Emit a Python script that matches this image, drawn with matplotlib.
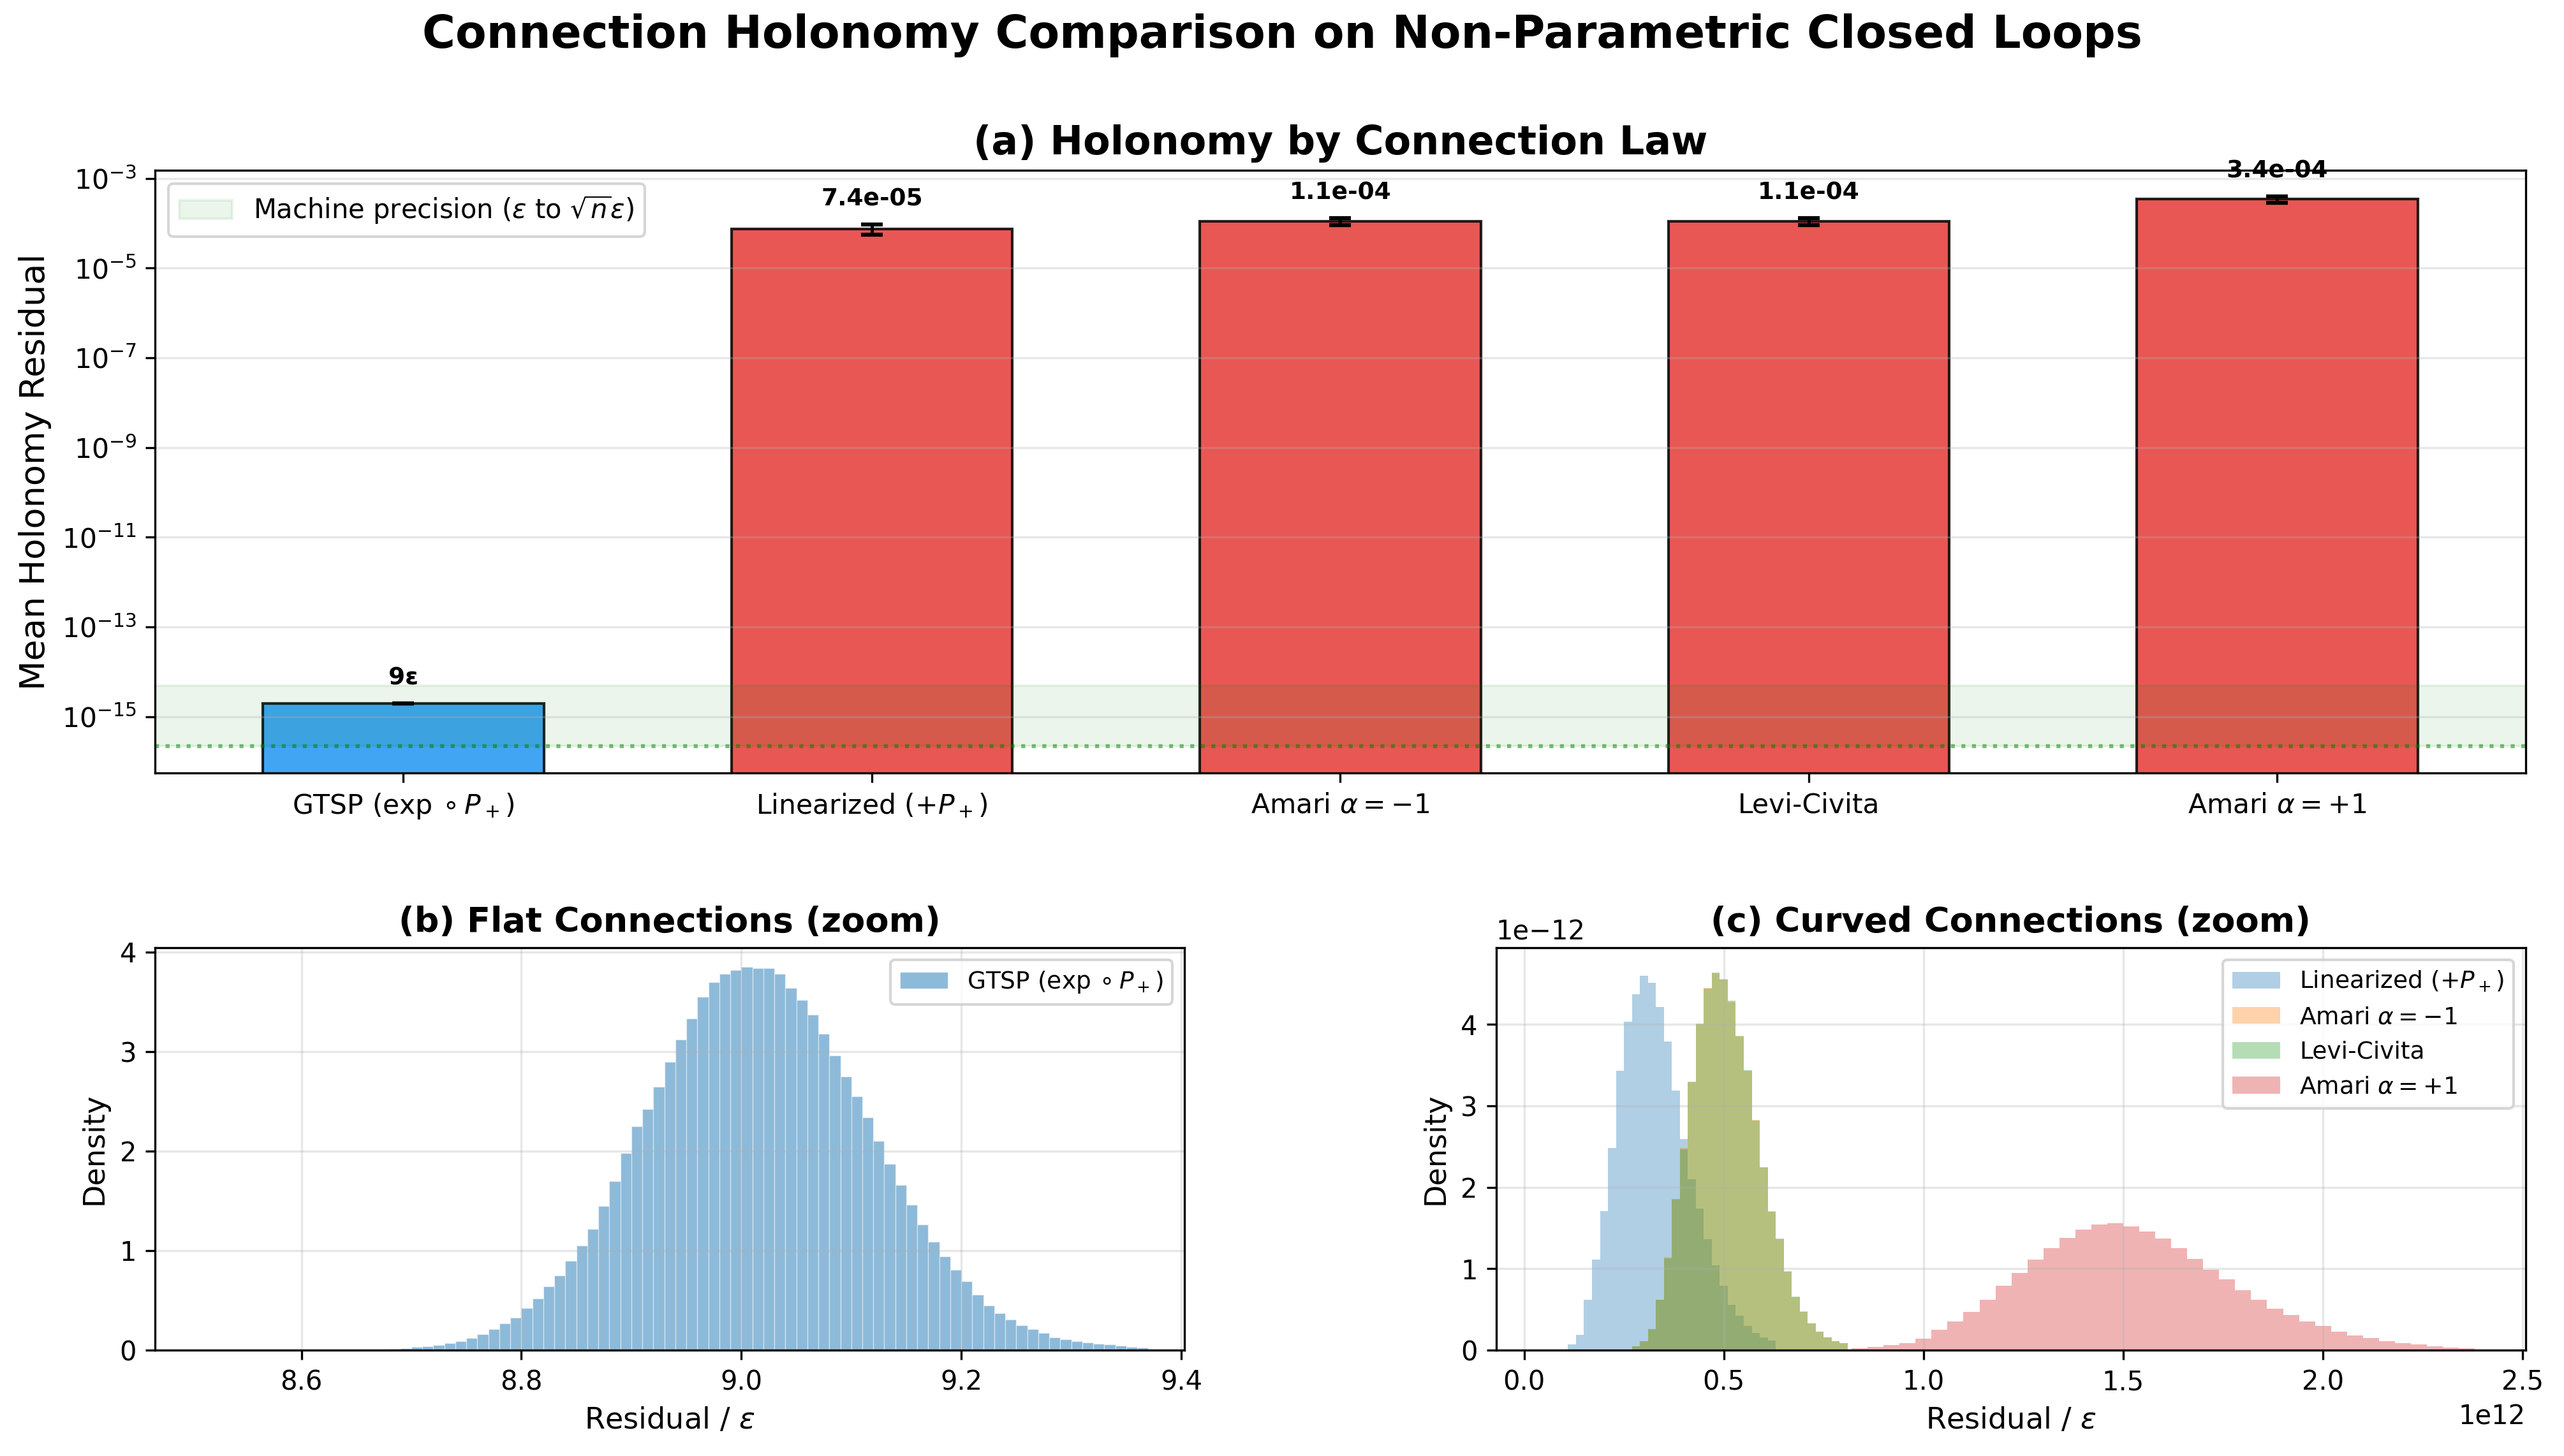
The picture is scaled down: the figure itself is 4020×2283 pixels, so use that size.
import numpy as np
import matplotlib.pyplot as plt

eps = np.finfo(float).eps

# (a) mean holonomy residual per connection law
methods = [r'GTSP ($\exp\circ P_+$)', r'Linearized ($+P_+$)', r'Amari $\alpha=-1$',
           'Levi-Civita', r'Amari $\alpha=+1$']
mean_residual = [9 * eps, 7.4e-05, 1.1e-04, 1.1e-04, 3.4e-04]
std_residual = [0.02 * eps, 1.9e-05, 1.9e-05, 1.9e-05, 5.5e-05]
bar_text = ['9ε', '7.4e-05', '1.1e-04', '1.1e-04', '3.4e-04']
band_upper = 4.9e-15   # sqrt(n) * eps

# (b) flat connection: residual / eps, bin width 0.01
flat_centers = np.round(np.arange(8.685, 9.37, 0.01), 3)
flat_density = [0.01, 0.02, 0.03, 0.04, 0.05, 0.07, 0.09, 0.12, 0.16, 0.21,
                0.27, 0.33, 0.42, 0.52, 0.64, 0.75, 0.90, 1.05, 1.22, 1.45,
                1.70, 1.98, 2.25, 2.42, 2.65, 2.90, 3.12, 3.33, 3.55, 3.70,
                3.78, 3.82, 3.85, 3.84, 3.84, 3.78, 3.64, 3.52, 3.37, 3.18,
                2.96, 2.75, 2.55, 2.34, 2.10, 1.87, 1.66, 1.46, 1.26, 1.09,
                0.94, 0.81, 0.69, 0.56, 0.45, 0.37, 0.31, 0.25, 0.21, 0.17,
                0.13, 0.11, 0.09, 0.075, 0.065, 0.055, 0.045, 0.035, 0.025]

# (c) curved connections: residual / eps in units of 1e12, density in units of 1e-12
lin_centers = np.round(np.arange(0.12, 0.63, 0.02), 3)
lin_density = [0.07, 0.19, 0.62, 1.11, 1.71, 2.48, 3.43, 4.03, 4.37, 4.60,
               4.51, 4.21, 3.79, 3.19, 2.59, 2.10, 1.74, 1.36, 1.04, 0.79,
               0.56, 0.42, 0.30, 0.21, 0.16, 0.12]
amari_m1_centers = np.round(np.arange(0.28, 0.81, 0.02), 3)
amari_m1_density = [0.05, 0.11, 0.26, 0.62, 1.14, 1.85, 2.48, 3.29, 4.00, 4.45,
                    4.63, 4.56, 4.28, 3.86, 3.43, 2.83, 2.24, 1.71, 1.36, 0.97,
                    0.65, 0.48, 0.33, 0.23, 0.16, 0.11, 0.09]
levi_centers = np.round(np.arange(0.28, 0.81, 0.02), 3)
levi_density = [0.05, 0.11, 0.26, 0.62, 1.13, 1.86, 2.47, 3.30, 4.01, 4.44,
                4.64, 4.55, 4.29, 3.85, 3.44, 2.82, 2.25, 1.70, 1.37, 0.96,
                0.66, 0.47, 0.33, 0.23, 0.16, 0.11, 0.09]
amari_p1_centers = np.round(np.arange(0.84, 2.37, 0.04), 3)
amari_p1_density = [0.02, 0.04, 0.06, 0.09, 0.14, 0.25, 0.35, 0.47, 0.62, 0.79,
                    0.95, 1.11, 1.25, 1.38, 1.48, 1.54, 1.56, 1.52, 1.46, 1.37,
                    1.25, 1.12, 0.99, 0.87, 0.74, 0.62, 0.51, 0.43, 0.35, 0.30,
                    0.23, 0.18, 0.15, 0.11, 0.09, 0.07, 0.05, 0.034, 0.026]


def edges_from(centers):
    w = centers[1] - centers[0]
    return np.append(centers - w / 2, centers[-1] + w / 2)


fig = plt.figure(figsize=(13.4, 7.61), dpi=300)
fig.suptitle('Connection Holonomy Comparison on Non-Parametric Closed Loops',
             fontsize=17, fontweight='bold', y=0.9755, va='center')

# ---- (a) bar chart
ax = fig.add_axes([0.0605, 0.469, 0.9245, 0.414])
x = np.arange(len(methods))
colors = ['#2196F3'] + ['#E53935'] * (len(methods) - 1)
ax.bar(x, mean_residual, width=0.6, yerr=std_residual, capsize=4, color=colors,
       alpha=0.85, edgecolor='black', linewidth=1.0,
       error_kw=dict(ecolor='black', elinewidth=1.2, capthick=1.5))
ax.set_yscale('log')
ax.axhspan(eps, band_upper, color='green', alpha=0.08,
           label=r'Machine precision ($\epsilon$ to $\sqrt{n}\epsilon$)')
ax.axhline(eps, color='green', linestyle=':', linewidth=1.5, alpha=0.5)
for xi, m, s, t in zip(x, mean_residual, std_residual, bar_text):
    ax.text(xi, (m + s) * 2.0, t, ha='center', va='bottom', fontsize=9,
            fontweight='bold')
ax.set_xticks(x)
ax.set_xticklabels(methods, fontsize=10.2)
ax.set_yticks([10.0 ** k for k in range(-15, -2, 2)])
ax.yaxis.set_minor_locator(plt.NullLocator())
ax.tick_params(axis='y', labelsize=10.2)
ax.set_ylim(eps / 4, 1.5e-3)
ax.set_ylabel('Mean Holonomy Residual', fontsize=13)
ax.set_title('(a) Holonomy by Connection Law', fontsize=14.9, fontweight='bold')
ax.grid(True, axis='y', alpha=0.3)
ax.legend(loc='upper left', fontsize=10)

# ---- (b) flat connections
axb = fig.add_axes([0.0605, 0.0727, 0.4015, 0.2763])
axb.hist(flat_centers, bins=edges_from(flat_centers), weights=flat_density,
         color='tab:blue', alpha=0.5, edgecolor='white', linewidth=0.3,
         label=r'GTSP ($\exp\circ P_+$)')
axb.set_xlim(8.467, 9.403)
axb.set_title('(b) Flat Connections (zoom)', fontsize=13, fontweight='bold')
axb.set_xlabel(r'Residual / $\epsilon$', fontsize=11.1)
axb.set_ylabel('Density', fontsize=11.1)
axb.tick_params(labelsize=10)
axb.grid(True, alpha=0.3)
axb.legend(loc='upper right', fontsize=9)

# ---- (c) curved connections
axc = fig.add_axes([0.5835, 0.0727, 0.4015, 0.2763])
curved = [
    (lin_centers, lin_density, 'tab:blue', r'Linearized ($+P_+$)'),
    (amari_m1_centers, amari_m1_density, 'tab:orange', r'Amari $\alpha=-1$'),
    (levi_centers, levi_density, 'tab:green', 'Levi-Civita'),
    (amari_p1_centers, amari_p1_density, 'tab:red', r'Amari $\alpha=+1$'),
]
for c, d, col, lab in curved:
    axc.hist(c * 1e12, bins=edges_from(c) * 1e12, weights=np.array(d) * 1e-12,
             color=col, alpha=0.35, label=lab)
axc.set_xlim(-0.07e12, 2.507e12)
axc.set_ylim(0, 4.94e-12)
axc.set_title('(c) Curved Connections (zoom)', fontsize=13, fontweight='bold')
axc.set_xlabel(r'Residual / $\epsilon$', fontsize=11.1)
axc.set_ylabel('Density', fontsize=11.1)
axc.tick_params(labelsize=10)
axc.xaxis.get_offset_text().set_fontsize(10)
axc.yaxis.get_offset_text().set_fontsize(10)
axc.grid(True, alpha=0.3)
axc.legend(loc='upper right', fontsize=9)

fig.savefig('out.png', dpi=300)
